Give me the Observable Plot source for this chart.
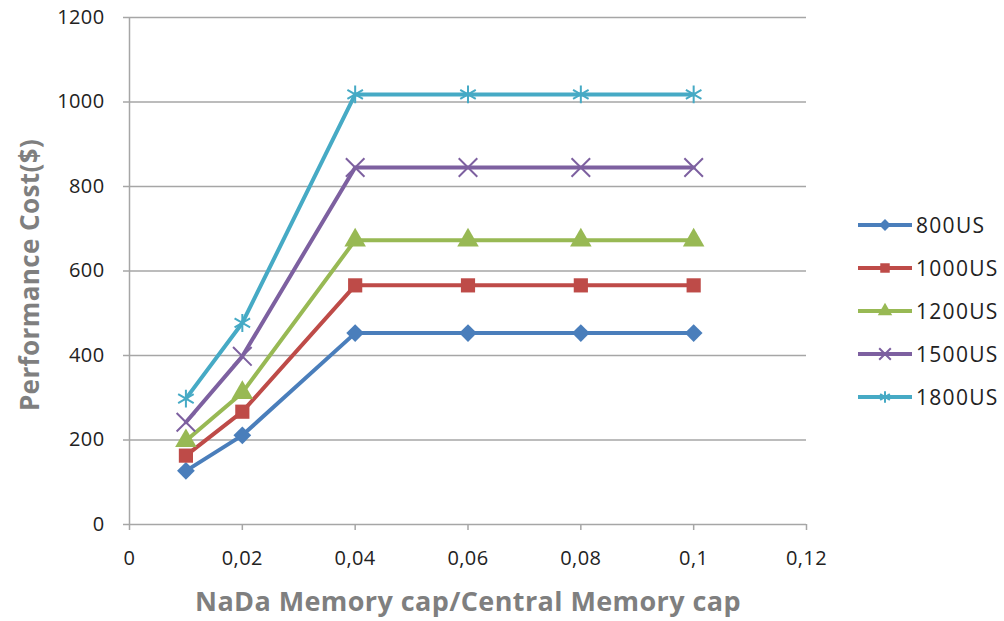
<!DOCTYPE html>
<html><head><meta charset="utf-8">
<script src="https://cdn.jsdelivr.net/npm/d3@7"></script>
<script src="https://cdn.jsdelivr.net/npm/@observablehq/plot@0.6"></script>
<style>
body{margin:0;background:#fff;}
#wrap{position:relative;width:1004px;height:621px;font-family:"Open Sans",sans-serif;}
#legend{position:absolute;left:856px;top:203px;}
.item{display:flex;align-items:center;height:43px;font-size:21px;letter-spacing:1.3px;color:#222;white-space:nowrap;}
.item svg{margin-right:2px;flex:none;}
</style>
</head><body>
<div id="wrap"></div>
<script>
const xValues = [0.01, 0.02, 0.04, 0.06, 0.08, 0.1];
const seriesNames = ["800US", "1000US", "1200US", "1500US", "1800US"];
const v800  = [127, 211, 453, 453, 453, 453];
const v1000 = [163, 267, 566, 566, 566, 566];
const v1200 = [198, 312, 673, 673, 673, 673];
const v1500 = [242, 398, 845, 845, 845, 845];
const v1800 = [298, 477, 1018, 1018, 1018, 1018];
const xTicks = [0, 0.02, 0.04, 0.06, 0.08, 0.1, 0.12];
const yTicks = [0, 200, 400, 600, 800, 1000, 1200];
const colors = ["#4a7ebb", "#be4b48", "#98b954", "#7d60a0", "#46aac5"];
const symbols = ["diamond2", "square", "triangle", "times", "asterisk"];
const xTitle = "NaDa Memory cap/Central Memory cap";
const yTitle = "Performance Cost($)";

const allValues = [v800, v1000, v1200, v1500, v1800];
const data = [];
seriesNames.forEach((s, i) => xValues.forEach((x, j) => data.push({series: s, x, y: allValues[i][j], filled: i < 3})));

const grid = "#a6a6a6";
const chart = Plot.plot({
  width: 1004, height: 621,
  marginLeft: 129, marginRight: 198, marginTop: 17, marginBottom: 97,
  style: {fontFamily: "'Open Sans', sans-serif", fontSize: "20px", letterSpacing: "0.4px", color: "#222", background: "#fff"},
  x: {domain: [0, 0.12]},
  y: {domain: [0, 1200]},
  color: {domain: seriesNames, range: colors},
  symbol: {domain: seriesNames, range: symbols},
  marks: [
    Plot.ruleY(yTicks.filter(d => d > 0), {stroke: grid, strokeWidth: 1.5}),
    Plot.ruleX([0], {stroke: grid, strokeWidth: 1.5}),
    Plot.ruleY([0], {stroke: grid, strokeWidth: 1.5}),
    Plot.axisX(xTicks, {tickSize: 6, tickPadding: 20, stroke: grid, strokeWidth: 1.5, label: null,
      tickFormat: d => String(d).replace(".", ","), fill: "#222"}),
    Plot.axisY(yTicks, {tickSize: 6, tickPadding: 19, stroke: grid, strokeWidth: 1.5, label: null,
      tickFormat: d => String(d), fill: "#222"}),
    Plot.line(data, {x: "x", y: "y", z: "series", stroke: "series", strokeWidth: 4}),
    Plot.dot(data.filter(d => d.filled), {x: "x", y: "y", symbol: "series", fill: "series", r: 8}),
    Plot.dot(data.filter(d => !d.filled), {x: "x", y: "y", symbol: "series", stroke: "series", fill: "none", strokeWidth: 2, r: 8.5}),
    Plot.text([xTitle], {frameAnchor: "bottom", dy: 86, fontSize: 27, fontWeight: "bold", fill: "#7f7f7f"}),
    Plot.text([yTitle], {frameAnchor: "left", textAnchor: "middle", dx: -99, dy: 4, rotate: -90, fontSize: 26, fontWeight: "bold", fill: "#7f7f7f"})
  ]
});
const wrap = document.getElementById("wrap");
wrap.appendChild(chart);

const legend = document.createElement("div");
legend.id = "legend";
seriesNames.forEach((s, i) => {
  const item = document.createElement("div");
  item.className = "item";
  const ns = "http://www.w3.org/2000/svg";
  const svg = document.createElementNS(ns, "svg");
  svg.setAttribute("width", 58); svg.setAttribute("height", 20);
  const line = document.createElementNS(ns, "line");
  line.setAttribute("x1", 2); line.setAttribute("x2", 56); line.setAttribute("y1", 10); line.setAttribute("y2", 10);
  line.setAttribute("stroke", colors[i]); line.setAttribute("stroke-width", 4);
  svg.appendChild(line);
  const symMap = {diamond2: d3.symbolDiamond2, square: d3.symbolSquare, triangle: d3.symbolTriangle, times: d3.symbolTimes, asterisk: d3.symbolAsterisk};
  const p = document.createElementNS(ns, "path");
  p.setAttribute("d", d3.symbol(symMap[symbols[i]], 90)());
  p.setAttribute("transform", "translate(29,10)");
  if (i < 3) p.setAttribute("fill", colors[i]);
  else { p.setAttribute("fill", "none"); p.setAttribute("stroke", colors[i]); p.setAttribute("stroke-width", 2); }
  svg.appendChild(p);
  item.appendChild(svg);
  const t = document.createElement("span");
  t.textContent = s;
  item.appendChild(t);
  legend.appendChild(item);
});
wrap.appendChild(legend);
</script>
</body></html>
